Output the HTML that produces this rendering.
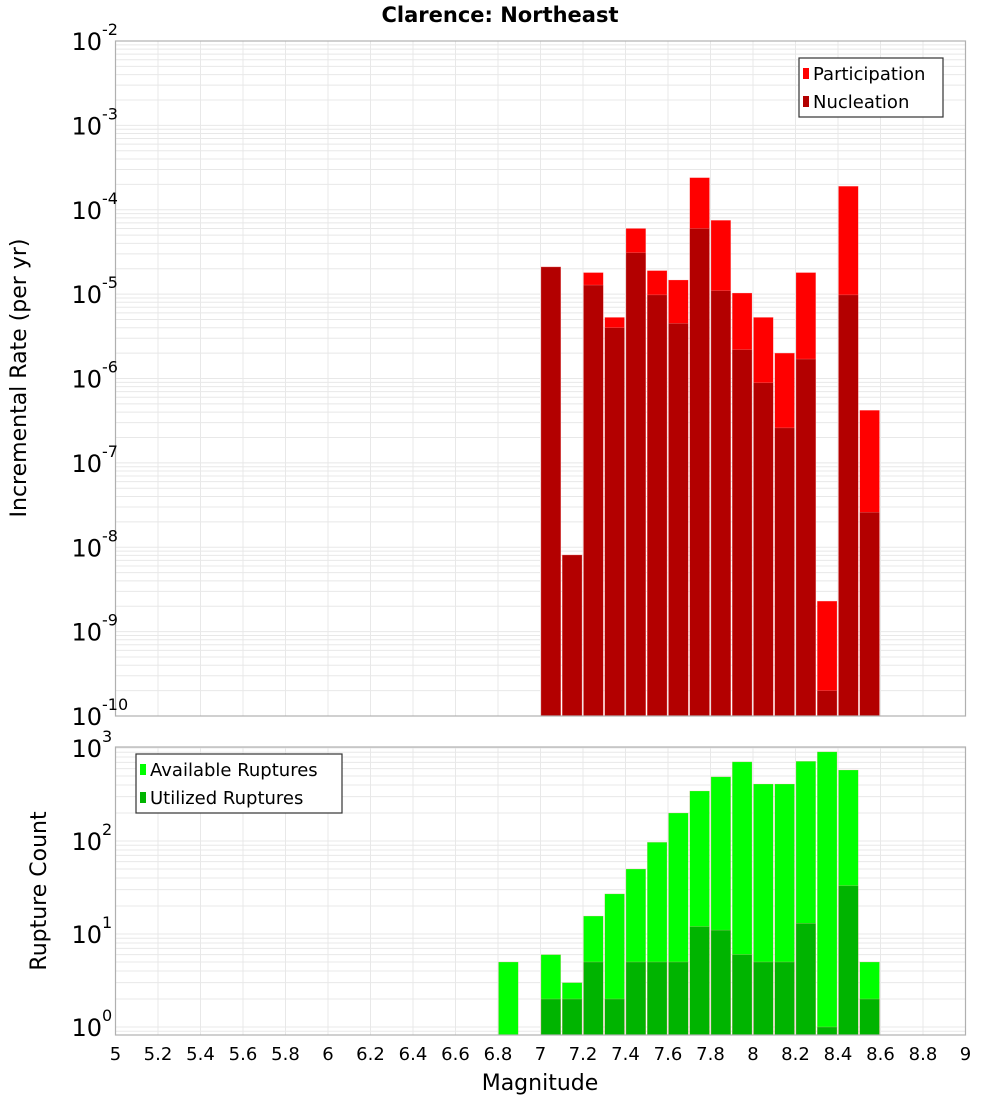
<!DOCTYPE html>
<html><head><meta charset="utf-8"><style>
body{margin:0;background:#fff;}
svg{display:block;font-family:"DejaVu Sans","Liberation Sans",sans-serif;}
</style></head><body>
<svg id="c" width="1000" height="1100" xmlns="http://www.w3.org/2000/svg">
<text x="500" y="22" text-anchor="middle" font-weight="bold" font-size="21">Clarence: Northeast</text>
<text transform="translate(26,378) rotate(-90)" text-anchor="middle" font-size="22">Incremental Rate (per yr)</text>
<text transform="translate(46,891) rotate(-90)" text-anchor="middle" font-size="22">Rupture Count</text>
<text x="540" y="1090" text-anchor="middle" font-size="22">Magnitude</text>
<g id="g"></g>
</svg>
<script>
const mags=[7.0,7.1,7.2,7.3,7.4,7.5,7.6,7.7,7.8,7.9,8.0,8.1,8.2,8.3,8.4,8.5];
const participation=[2.1e-5,8.1e-9,1.8e-5,5.3e-6,6.0e-5,1.9e-5,1.47e-5,2.4e-4,7.5e-5,1.03e-5,5.3e-6,2.0e-6,1.8e-5,2.3e-9,1.9e-4,4.2e-7];
const nucleation=[2.1e-5,8.1e-9,1.28e-5,4.0e-6,3.1e-5,9.8e-6,4.5e-6,6.0e-5,1.1e-5,2.2e-6,8.9e-7,2.6e-7,1.7e-6,2.0e-10,9.8e-6,2.6e-8];
const countMags=[6.8,7.0,7.1,7.2,7.3,7.4,7.5,7.6,7.7,7.8,7.9,8.0,8.1,8.2,8.3,8.4,8.5];
const available=[5,6,3,15.6,27,50,97,200,345,490,710,410,410,720,910,580,5];
const utilized=[0,2,2,5,2,5,5,5,12,11,6,5,5,13,1,33,2];
const xTicks=[5,5.2,5.4,5.6,5.8,6,6.2,6.4,6.6,6.8,7,7.2,7.4,7.6,7.8,8,8.2,8.4,8.6,8.8,9];
const topExps=[-10,-9,-8,-7,-6,-5,-4,-3,-2];
const botExps=[0,1,2,3];

const NS="http://www.w3.org/2000/svg";
const g=document.getElementById('g');
function el(t,a,p){const e=document.createElementNS(NS,t);for(const k in a)e.setAttribute(k,a[k]);(p||g).appendChild(e);return e;}
const X0=115.5,X1=965.5;
const xs=m=>X0+(m-5)/4*(X1-X0);
const T0=41,T1=716;
const yTop=v=>T1-(Math.log10(v)+10)*(T1-T0)/8;
const B0=747,B1=1035;
const yBot=v=>1027-93*Math.log10(v);

function grid(y0,y1,expLo,expHi,yf){
  for(let e=expLo;e<expHi;e++)for(let k=1;k<10;k++){
    const y=yf(k*Math.pow(10,e));
    if(y<y0-0.5||y>y1+0.5)continue;
    const l=el('line',{x1:X0,x2:X1,y1:y,y2:y,stroke:'#e8e8e8','stroke-width':1});
    
  }
  xTicks.forEach(t=>{const l=el('line',{x1:xs(t),x2:xs(t),y1:y0,y2:y1,stroke:'#e8e8e8','stroke-width':1});
    });
}
grid(T0,T1,-10,-1,yTop);
grid(B0,B1,-1,4,yBot);

function bar(m,v,yf,ybase,fill,name){
  const x=xs(m)+0.5,w=xs(m+0.1)-xs(m)-1.5,y=Math.max(yf(v),0);
  const r=el('rect',{x:x,y:y,width:w,height:Math.max(ybase-y,0),fill:fill,stroke:'#ffb0b0','stroke-width':0.5,'stroke-opacity':0.5});
  
}
mags.forEach((m,i)=>{bar(m,participation[i],yTop,T1,'#ff0000','participation-bar');bar(m,nucleation[i],yTop,T1,'#b30000','nucleation-bar');});
countMags.forEach((m,i)=>{bar(m,available[i],yBot,B1,'#00ff00','available-bar');if(utilized[i]>0)bar(m,utilized[i],yBot,B1,'#00b400','utilized-bar');});

[[T0,T1,'top-plot-frame'],[B0,B1,'bottom-plot-frame']].forEach(f=>{
  const r=el('rect',{x:X0,y:f[0],width:X1-X0,height:f[1]-f[0],fill:'none',stroke:'#b0b0b0','stroke-width':1.2});
  
});

function ylab(e,y,name){
  const t=el('text',{x:102,y:y+9,'text-anchor':'end','font-size':24});
  
  t.textContent='10';
  const s=el('text',{x:102,y:y-6,'font-size':16});
  
  s.textContent=String(e);
}
topExps.forEach(e=>ylab(e,yTop(Math.pow(10,e)),'top-y-tick-label'));
botExps.forEach(e=>ylab(e,yBot(Math.pow(10,e)),'bottom-y-tick-label'));
xTicks.forEach(t=>{const tx=el('text',{x:xs(t),y:1060,'text-anchor':'middle','font-size':18});
  tx.textContent=String(t);});

function legend(x,y,w,items,name){
  const lg=el('g',{});
  const r=el('rect',{x:x,y:y,width:w,height:59,fill:'#fff',stroke:'#333','stroke-width':1.2},lg);
  
  items.forEach((it,i)=>{
    const sw=el('rect',{x:x+4,y:y+10+i*28,width:6,height:11,fill:it[1]},lg);
    
    const t=el('text',{x:x+14,y:y+22+i*28,'font-size':18},lg);
    t.textContent=it[0];
  });
}
legend(799,58,144,[['Participation','#ff0000'],['Nucleation','#b30000']],'top-legend');
legend(136,754,206,[['Available Ruptures','#00ff00'],['Utilized Ruptures','#00b400']],'bottom-legend');
</script>
</body></html>
